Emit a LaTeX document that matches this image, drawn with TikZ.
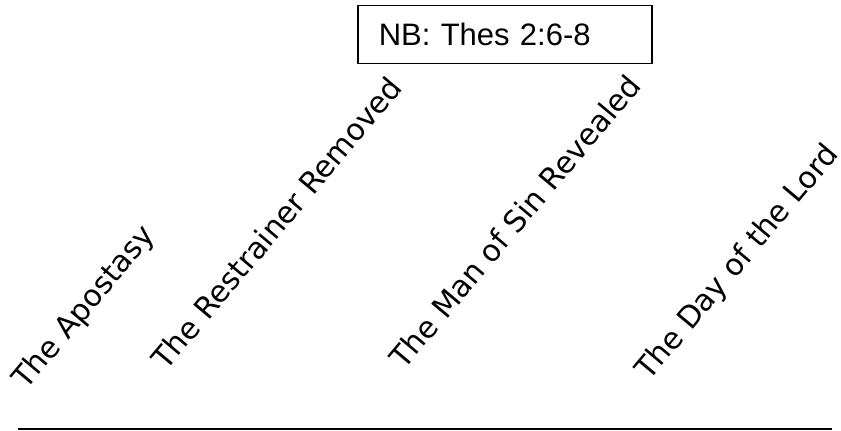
\documentclass[tikz,border=0pt]{standalone}
\usepackage{fontspec}
\setmainfont{Liberation Sans}
\newfontfamily\labelfont{DejaVu Sans}
\begin{document}
\begin{tikzpicture}[x=1pt,y=1pt,event/.style={anchor=base west,rotate=50,inner sep=0pt,font=\labelfont\fontsize{30}{36}\selectfont},note/.style={draw,line width=1.5pt,anchor=north west,text width=252pt,inner xsep=21pt,inner ysep=0pt,minimum height=58pt,align=left,font=\fontsize{31}{37}\selectfont}]
\useasboundingbox (0,0) rectangle (841,431);
\node[note] (nb) at (357,426) {NB: Thes 2:6-8};
\node[event] (apostasy) at (26,40) {The Apostasy};
\node[event] (restrainer) at (166,59) {The Restrainer Removed};
\node[event] (mansin) at (404,60) {The Man of Sin Revealed};
\node[event] (daylord) at (649,49) {The Day of the Lord};
% time line
\coordinate (tl1) at (18,2);
\coordinate (tl2) at (832,2);
\draw[line width=2pt] (tl1) -- (tl2);
\end{tikzpicture}
\end{document}
